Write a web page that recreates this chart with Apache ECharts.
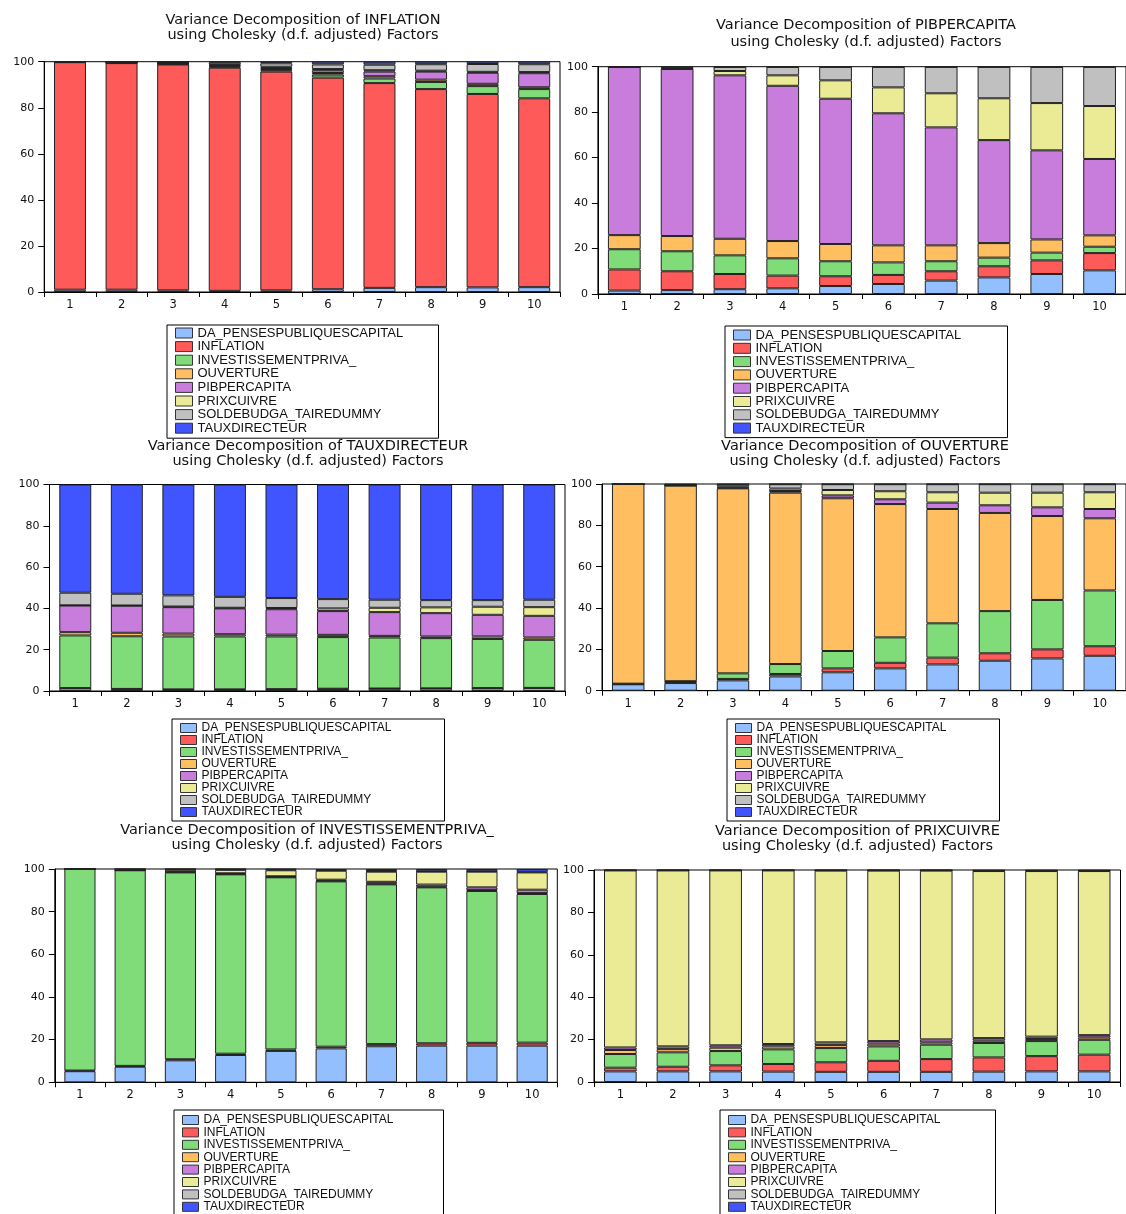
<!DOCTYPE html>
<html>
<head>
<meta charset="utf-8">
<script src="https://cdn.jsdelivr.net/npm/echarts@6/dist/echarts.min.js"></script>
<style>
html,body{margin:0;padding:0;background:#fff;}
#c{width:1126px;height:1214px;}
</style>
</head>
<body>
<div id="c"></div>
<script>
// ---------- DATA ----------
const periods = ['1','2','3','4','5','6','7','8','9','10'];
const shockNames = ['DA_PENSESPUBLIQUESCAPITAL','INFLATION','INVESTISSEMENTPRIVA_','OUVERTURE','PIBPERCAPITA','PRIXCUIVRE','SOLDEBUDGA_TAIREDUMMY','TAUXDIRECTEUR'];
const responseNames = ['INFLATION','PIBPERCAPITA','TAUXDIRECTEUR','OUVERTURE','INVESTISSEMENTPRIVA_','PRIXCUIVRE'];
const yTickValues = [0,20,40,60,80,100];

// rows follow shockNames order, columns follow periods
const vdInflation = [
  [1.0,1.0,0.7,0.5,0.7,1.2,1.8,2.1,2.0,2.1],
  [98.8,98.4,98.1,96.9,95.0,91.9,88.9,86.0,84.0,82.0],
  [0.05,0.1,0.2,0.4,0.6,1.3,2.0,3.1,3.4,4.0],
  [0.05,0.1,0.2,0.4,0.5,0.7,1.0,1.0,1.0,0.8],
  [0.05,0.1,0.2,0.3,0.5,1.2,2.0,3.5,4.8,6.1],
  [0.02,0.1,0.2,0.3,0.5,0.5,0.6,0.4,0.4,0.5],
  [0.02,0.1,0.3,0.9,1.5,2.0,2.4,2.8,3.4,3.4],
  [0.01,0.1,0.1,0.3,0.7,1.2,1.3,1.1,1.0,1.1]
];
const vdPibpercapita = [
  [1.5,1.7,2.1,2.5,3.5,4.4,5.9,7.3,8.8,10.4],
  [9.3,8.3,6.7,5.6,4.3,4.0,4.1,4.9,6.0,7.6],
  [8.9,8.8,8.2,7.6,6.6,5.5,4.4,3.8,3.4,2.8],
  [6.2,6.7,7.3,7.6,7.6,7.5,7.0,6.4,5.8,5.0],
  [74.0,73.5,71.9,68.3,63.9,58.1,51.9,45.3,39.2,33.6],
  [0.05,0.2,1.9,4.6,8.1,11.4,15.0,18.4,20.8,23.3],
  [0.03,0.4,1.8,3.7,5.9,9.0,11.6,13.8,15.9,17.2],
  [0.02,0.4,0.1,0.1,0.1,0.1,0.1,0.1,0.1,0.1]
];
const vdTauxdirecteur = [
  [1.3,0.9,0.6,0.6,0.8,1.0,1.1,1.2,1.3,1.4],
  [0.1,0.1,0.2,0.2,0.1,0.1,0.1,0.1,0.1,0.1],
  [25.5,25.5,25.6,25.6,25.5,25.0,24.7,24.3,23.8,23.3],
  [1.6,1.7,1.4,1.1,0.9,1.1,0.8,0.8,1.2,1.1],
  [12.9,13.1,12.8,12.5,12.3,11.5,11.5,11.3,10.5,10.5],
  [0.1,0.1,0.3,0.3,0.6,1.3,2.1,2.8,3.9,4.2],
  [6.1,5.7,5.4,5.3,4.8,4.5,3.9,3.5,3.2,3.6],
  [52.4,52.9,53.7,54.4,55.0,55.5,55.8,56.0,56.0,55.8]
];
const vdOuverture = [
  [3.1,3.7,5.0,6.9,8.9,10.8,12.7,14.5,15.6,16.9],
  [0.2,0.6,0.7,1.2,1.9,2.7,3.3,3.6,4.4,4.6],
  [0.1,0.3,2.7,4.8,8.4,12.3,16.6,20.4,23.9,27.0],
  [96.6,94.6,89.5,82.9,73.9,64.5,55.3,47.5,40.6,34.9],
  [0,0.1,0.3,0.8,1.4,2.3,3.1,3.7,4.2,4.5],
  [0,0.1,0.6,1.2,2.6,3.9,5.0,6.1,7.1,8.1],
  [0,0.3,1.0,2.1,2.8,3.4,3.9,4.1,4.1,3.9],
  [0,0.3,0.2,0.1,0.1,0.1,0.1,0.1,0.1,0.1]
];
const vdInvestissement = [
  [5.2,7.3,10.3,12.8,14.7,15.9,16.9,17.2,17.2,17.2],
  [0.3,0.4,0.5,0.6,0.7,0.8,1.0,1.1,1.3,1.4],
  [94.5,91.7,87.6,84.1,80.7,77.5,74.9,73.1,71.2,69.7],
  [0,0.1,0.2,0.2,0.2,0.3,0.3,0.3,0.4,0.4],
  [0,0.1,0.2,0.3,0.3,0.5,0.9,1.0,1.3,1.6],
  [0,0.2,0.9,1.6,2.8,4.2,4.75,6.05,7.35,8.1],
  [0,0.1,0.2,0.3,0.4,0.3,0.3,0.2,0.2,0.3],
  [0,0.1,0.1,0.1,0.2,0.5,0.95,1.05,1.05,1.3]
];
const vdPrixcuivre = [
  [5.0,5.0,5.0,4.9,4.8,4.8,4.8,4.9,5.0,5.0],
  [1.75,2.2,2.85,3.6,4.5,5.2,6.0,6.7,7.2,7.9],
  [6.45,6.8,6.75,6.9,6.7,6.8,6.8,6.8,7.1,7.0],
  [1.9,1.5,1.6,1.4,1.4,1.3,1.1,1.1,1.0,1.1],
  [1.2,1.3,1.1,1.1,1.3,1.2,1.4,1.2,1.1,1.1],
  [83.5,83.0,82.5,81.9,81.0,80.4,79.6,78.8,78.1,77.4],
  [0.1,0.1,0.1,0.1,0.2,0.2,0.2,0.2,0.2,0.2],
  [0.1,0.1,0.1,0.1,0.1,0.1,0.1,0.3,0.3,0.3]
];

// ---------- STYLE / LAYOUT ----------
const shockColors = ['#94BFFF','#FF5A5A','#80DC78','#FFBE5F','#C87DDC','#EBEB96','#C0C0C0','#4055FF'];
const panelValues = [vdInflation, vdPibpercapita, vdTauxdirecteur, vdOuverture, vdInvestissement, vdPrixcuivre];
const layout = [
  {grid:{left:44.2, top:61.7, width:515.8, height:230.3}, title:{x:303, y:12, lh:15.5},
   legend:{x:167, y:325, w:271, iw:17, ih:10, gap:0.6, fs:13, pad:[1.5,0,3.5,8]}},
  {grid:{left:597.9, top:66.7, width:534, height:227.3}, title:{x:866, y:17, lh:16.5},
   legend:{x:725, y:326, w:282, iw:17, ih:10, gap:0.3, fs:13, pad:[2.5,0,3,8]}},
  {grid:{left:49.5, top:484.5, width:515.5, height:206.5}, title:{x:308, y:439, lh:15},
   legend:{x:172, y:719, w:272, iw:16, ih:9, gap:0, fs:12, pad:[3,0,3,8]}},
  {grid:{left:602, top:484, width:524, height:206.7}, title:{x:865, y:439, lh:14.5},
   legend:{x:727, y:719, w:272, iw:16, ih:9, gap:0, fs:12, pad:[3,0,3,8]}},
  {grid:{left:54.8, top:869, width:502.5, height:213.3}, title:{x:307, y:823, lh:15},
   legend:{x:174, y:1110, w:269, iw:16, ih:9, gap:0.4, fs:12, pad:[4,0,3,8]}},
  {grid:{left:594, top:870, width:526.5, height:212}, title:{x:857.5, y:824, lh:15},
   legend:{x:720, y:1110, w:275, iw:17, ih:9, gap:0.4, fs:12, pad:[4,0,3,8]}}
];

// measure widest legend label so the legend boxes can be given the reference width
const measureCtx = document.createElement('canvas').getContext('2d');
function widestLabel(fs) {
  measureCtx.font = fs + 'px "Liberation Sans"';
  let w = 0;
  shockNames.forEach(n => { w = Math.max(w, measureCtx.measureText(n).width); });
  return w;
}

const chart = echarts.init(document.getElementById('c'), null, {renderer:'canvas', width:1126, height:1214});

const option = {
  animation:false,
  backgroundColor:'#ffffff',
  title:[], grid:[], xAxis:[], yAxis:[], legend:[], series:[]
};

layout.forEach((L, p) => {
  option.title.push({
    text:'Variance Decomposition of ' + responseNames[p] + '\nusing Cholesky (d.f. adjusted) Factors',
    left:L.title.x, top:L.title.y, textAlign:'center', padding:0,
    textStyle:{fontFamily:'DejaVu Sans', fontSize:14.5, fontWeight:'normal', color:'#111', lineHeight:L.title.lh}
  });
  option.grid.push(Object.assign({show:true, borderColor:'#000', borderWidth:1, backgroundColor:'transparent', containLabel:false}, L.grid));
  option.xAxis.push({
    type:'category', gridIndex:p, data:periods, boundaryGap:true,
    axisLine:{show:true, lineStyle:{color:'#000', width:1}},
    axisTick:{show:true, inside:false, length:5, interval:0, lineStyle:{color:'#000'}},
    axisLabel:{interval:0, margin:7, fontFamily:'DejaVu Sans', fontSize:11.5, color:'#111'},
    splitLine:{show:false}
  });
  option.yAxis.push({
    type:'value', gridIndex:p, min:yTickValues[0], max:yTickValues[yTickValues.length-1],
    interval:yTickValues[1]-yTickValues[0],
    axisLine:{show:true, lineStyle:{color:'#000', width:1}},
    axisTick:{show:true, inside:false, length:6, lineStyle:{color:'#000'}},
    axisLabel:{margin:10, fontFamily:'DejaVu Sans', fontSize:11, color:'#111'},
    splitLine:{show:false}
  });
  const G = L.legend;
  const padR = Math.max(4, G.w - G.pad[3] - G.iw - 5 - widestLabel(G.fs));
  option.legend.push({
    orient:'vertical', left:G.x, top:G.y, height:300,
    padding:[G.pad[0], padR, G.pad[2], G.pad[3]],
    itemWidth:G.iw, itemHeight:G.ih, itemGap:G.gap, icon:'rect',
    borderColor:'#000', borderWidth:1, backgroundColor:'#fff',
    selectedMode:false, data:shockNames.slice(),
    itemStyle:{borderColor:'#333', borderWidth:1},
    textStyle:{fontFamily:'Liberation Sans', fontSize:G.fs, color:'#111'}
  });
  shockNames.forEach((name, s) => {
    option.series.push({
      type:'bar', name:name, stack:'panel'+p, xAxisIndex:p, yAxisIndex:p,
      data:panelValues[p][s], barWidth:'62%', silent:true,
      itemStyle:{color:shockColors[s], borderColor:'#222', borderWidth:1},
      emphasis:{disabled:true}
    });
  });
});

chart.setOption(option);
</script>
</body>
</html>
